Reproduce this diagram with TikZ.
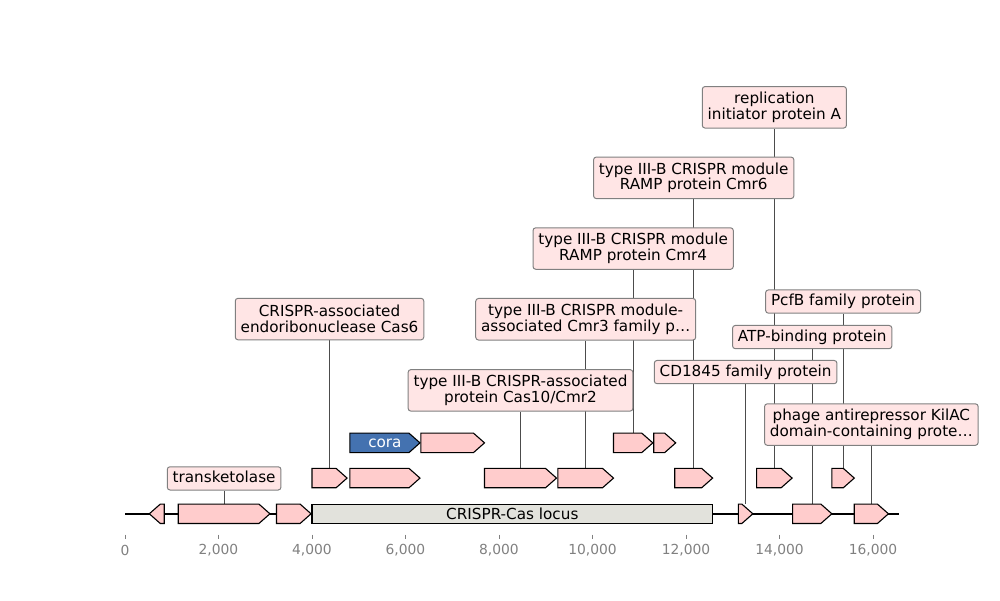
\documentclass[tikz,border=0pt]{standalone}
\usepackage{fontspec}
\setmainfont{DejaVu Sans}
\usetikzlibrary{backgrounds}

\definecolor{genepink}{RGB}{255,204,204}
\definecolor{tagpink}{RGB}{255,229,229}
\definecolor{corablue}{RGB}{68,114,176}
\definecolor{locusgrey}{RGB}{226,226,220}
\definecolor{axisgrey}{RGB}{128,128,128}

\newcommand{\headlen}{0.235} % arrow head, in kb
\newcommand{\halfht}{9.7}    % half height of a gene, in px

% forward gene: name, start, end, lane, style
\newcommand{\fwdgene}[5]{%
    \draw[#5] (#2,{#4-\halfht}) -- ({#3-\headlen},{#4-\halfht}) -- (#3,#4)
        -- ({#3-\headlen},{#4+\halfht}) -- (#2,{#4+\halfht}) -- cycle;
    \coordinate (#1) at ({(#2+#3)/2},{#4+\halfht});}
% reverse gene: name, start, end, lane, style
\newcommand{\revgene}[5]{%
    \draw[#5] (#3,{#4-\halfht}) -- ({#2+\headlen},{#4-\halfht}) -- (#2,#4)
        -- ({#2+\headlen},{#4+\halfht}) -- (#3,{#4+\halfht}) -- cycle;
    \coordinate (#1) at ({(#2+#3)/2},{#4+\halfht});}

\begin{document}
\begin{tikzpicture}[
    x=1.18745cm, y=0.0254cm, % x in kb, y in px from the bottom
    gene/.style={draw=black, fill=genepink, line width=0.8pt, line join=miter}, % plain gene
    cora/.style={gene, fill=corablue}, % highlighted gene
    tag/.style={draw=axisgrey, fill=tagpink, rounded corners=2pt, line width=0.72pt,
        font=\fontsize{11}{11.5}\selectfont, align=center, inner xsep=3.9pt, inner ysep=0pt,
        text height=8.4pt, text depth=2.6pt, minimum height=16.8pt}, % one line label
    tagtwo/.style={tag, text height=, text depth=, minimum height=30pt}, % two line label
    leader/.style={black!70, line width=0.6pt}, % label to gene
    ticklabel/.style={text=axisgrey, font=\fontsize{10}{12}\selectfont}
]
    \useasboundingbox (-2.674,0) rectangle (18.717,600);

    % Lanes
    \def\laneone{86.3}
    \def\lanetwo{122}
    \def\lanethree{157.2}

    % Sequence line
    \coordinate (seqstart) at (0,\laneone);
    \coordinate (seqend) at (16.56,\laneone);
    \draw[line width=1.4pt] (seqstart) -- (seqend);

    % Genes on the sequence
    \revgene{gA}{0.52}{0.84}{\laneone}{gene}
    \fwdgene{tkt}{1.14}{3.10}{\laneone}{gene}
    \fwdgene{gB}{3.24}{3.98}{\laneone}{gene}
    \draw[gene, fill=locusgrey] (4.00,{\laneone-\halfht}) rectangle (12.57,{\laneone+\halfht});
    \node[font=\fontsize{11}{13}\selectfont] (locus) at (8.285,\laneone) {CRISPR-Cas locus};
    \fwdgene{cd1845}{13.12}{13.43}{\laneone}{gene}
    \fwdgene{atp}{14.28}{15.12}{\laneone}{gene}
    \fwdgene{kilac}{15.60}{16.33}{\laneone}{gene}

    % Second lane
    \fwdgene{cas6}{4.00}{4.75}{\lanetwo}{gene}
    \fwdgene{gC}{4.81}{6.31}{\lanetwo}{gene}
    \fwdgene{cas10}{7.69}{9.23}{\lanetwo}{gene}
    \fwdgene{cmr3}{9.26}{10.45}{\lanetwo}{gene}
    \fwdgene{cmr6}{11.76}{12.57}{\lanetwo}{gene}
    \fwdgene{repa}{13.51}{14.27}{\lanetwo}{gene}
    \fwdgene{pcfb}{15.12}{15.60}{\lanetwo}{gene}

    % Third lane
    \fwdgene{corag}{4.81}{6.31}{\lanethree}{cora}
    \node[text=white, font=\fontsize{11}{13}\selectfont] (coratext) at (5.56,\lanethree) {cora};
    \fwdgene{gD}{6.33}{7.69}{\lanethree}{gene}
    \fwdgene{cmr4}{10.45}{11.29}{\lanethree}{gene}
    \fwdgene{gE}{11.31}{11.78}{\lanethree}{gene}

    % Labels
    \node[tag] (lab-tkt) at (tkt |- 0,121.7) {transketolase};
    \node[tagtwo] (lab-cas6) at (cas6 |- 0,281) {CRISPR-associated\\endoribonuclease Cas6};
    \node[tagtwo] (lab-cas10) at (cas10 |- 0,209.7) {type III-B CRISPR-associated\\protein Cas10/Cmr2};
    \node[tagtwo] (lab-cmr3) at (cmr3 |- 0,280.8) {type III-B CRISPR module-\\associated Cmr3 family p…};
    \node[tagtwo] (lab-cmr4) at (cmr4 |- 0,351.5) {type III-B CRISPR module\\RAMP protein Cmr4};
    \node[tagtwo] (lab-cmr6) at (cmr6 |- 0,422.2) {type III-B CRISPR module\\RAMP protein Cmr6};
    \node[tagtwo] (lab-repa) at (repa |- 0,492.7) {replication\\initiator protein A};
    \node[tag] (lab-pcfb) at (pcfb |- 0,298.5) {PcfB family protein};
    \node[tag] (lab-atp) at (atp |- 0,263) {ATP-binding protein};
    \node[tag] (lab-cd1845) at (cd1845 |- 0,228) {CD1845 family protein};
    \node[tagtwo] (lab-kilac) at (kilac |- 0,175.5) {phage antirepressor KilAC\\domain-containing prote…};

    % Leader lines behind the labels
    \begin{pgfonlayer}{background}
        \foreach \g in {tkt, cas6, cas10, cmr3, cmr4, cmr6, repa, pcfb, atp, cd1845, kilac}
            \draw[leader] (lab-\g) -- (\g);
    \end{pgfonlayer}

    % Axis
    \foreach \t/\txt in {0/0, 2/{2,000}, 4/{4,000}, 6/{6,000}, 8/{8,000},
                         10/{10,000}, 12/{12,000}, 14/{14,000}, 16/{16,000}} {
        \draw[axisgrey, line width=0.6pt] (\t,65.5) -- (\t,61.5);
        \node[ticklabel] (tick\t) at (\t,50) {\txt};
    }

\end{tikzpicture}
\end{document}
